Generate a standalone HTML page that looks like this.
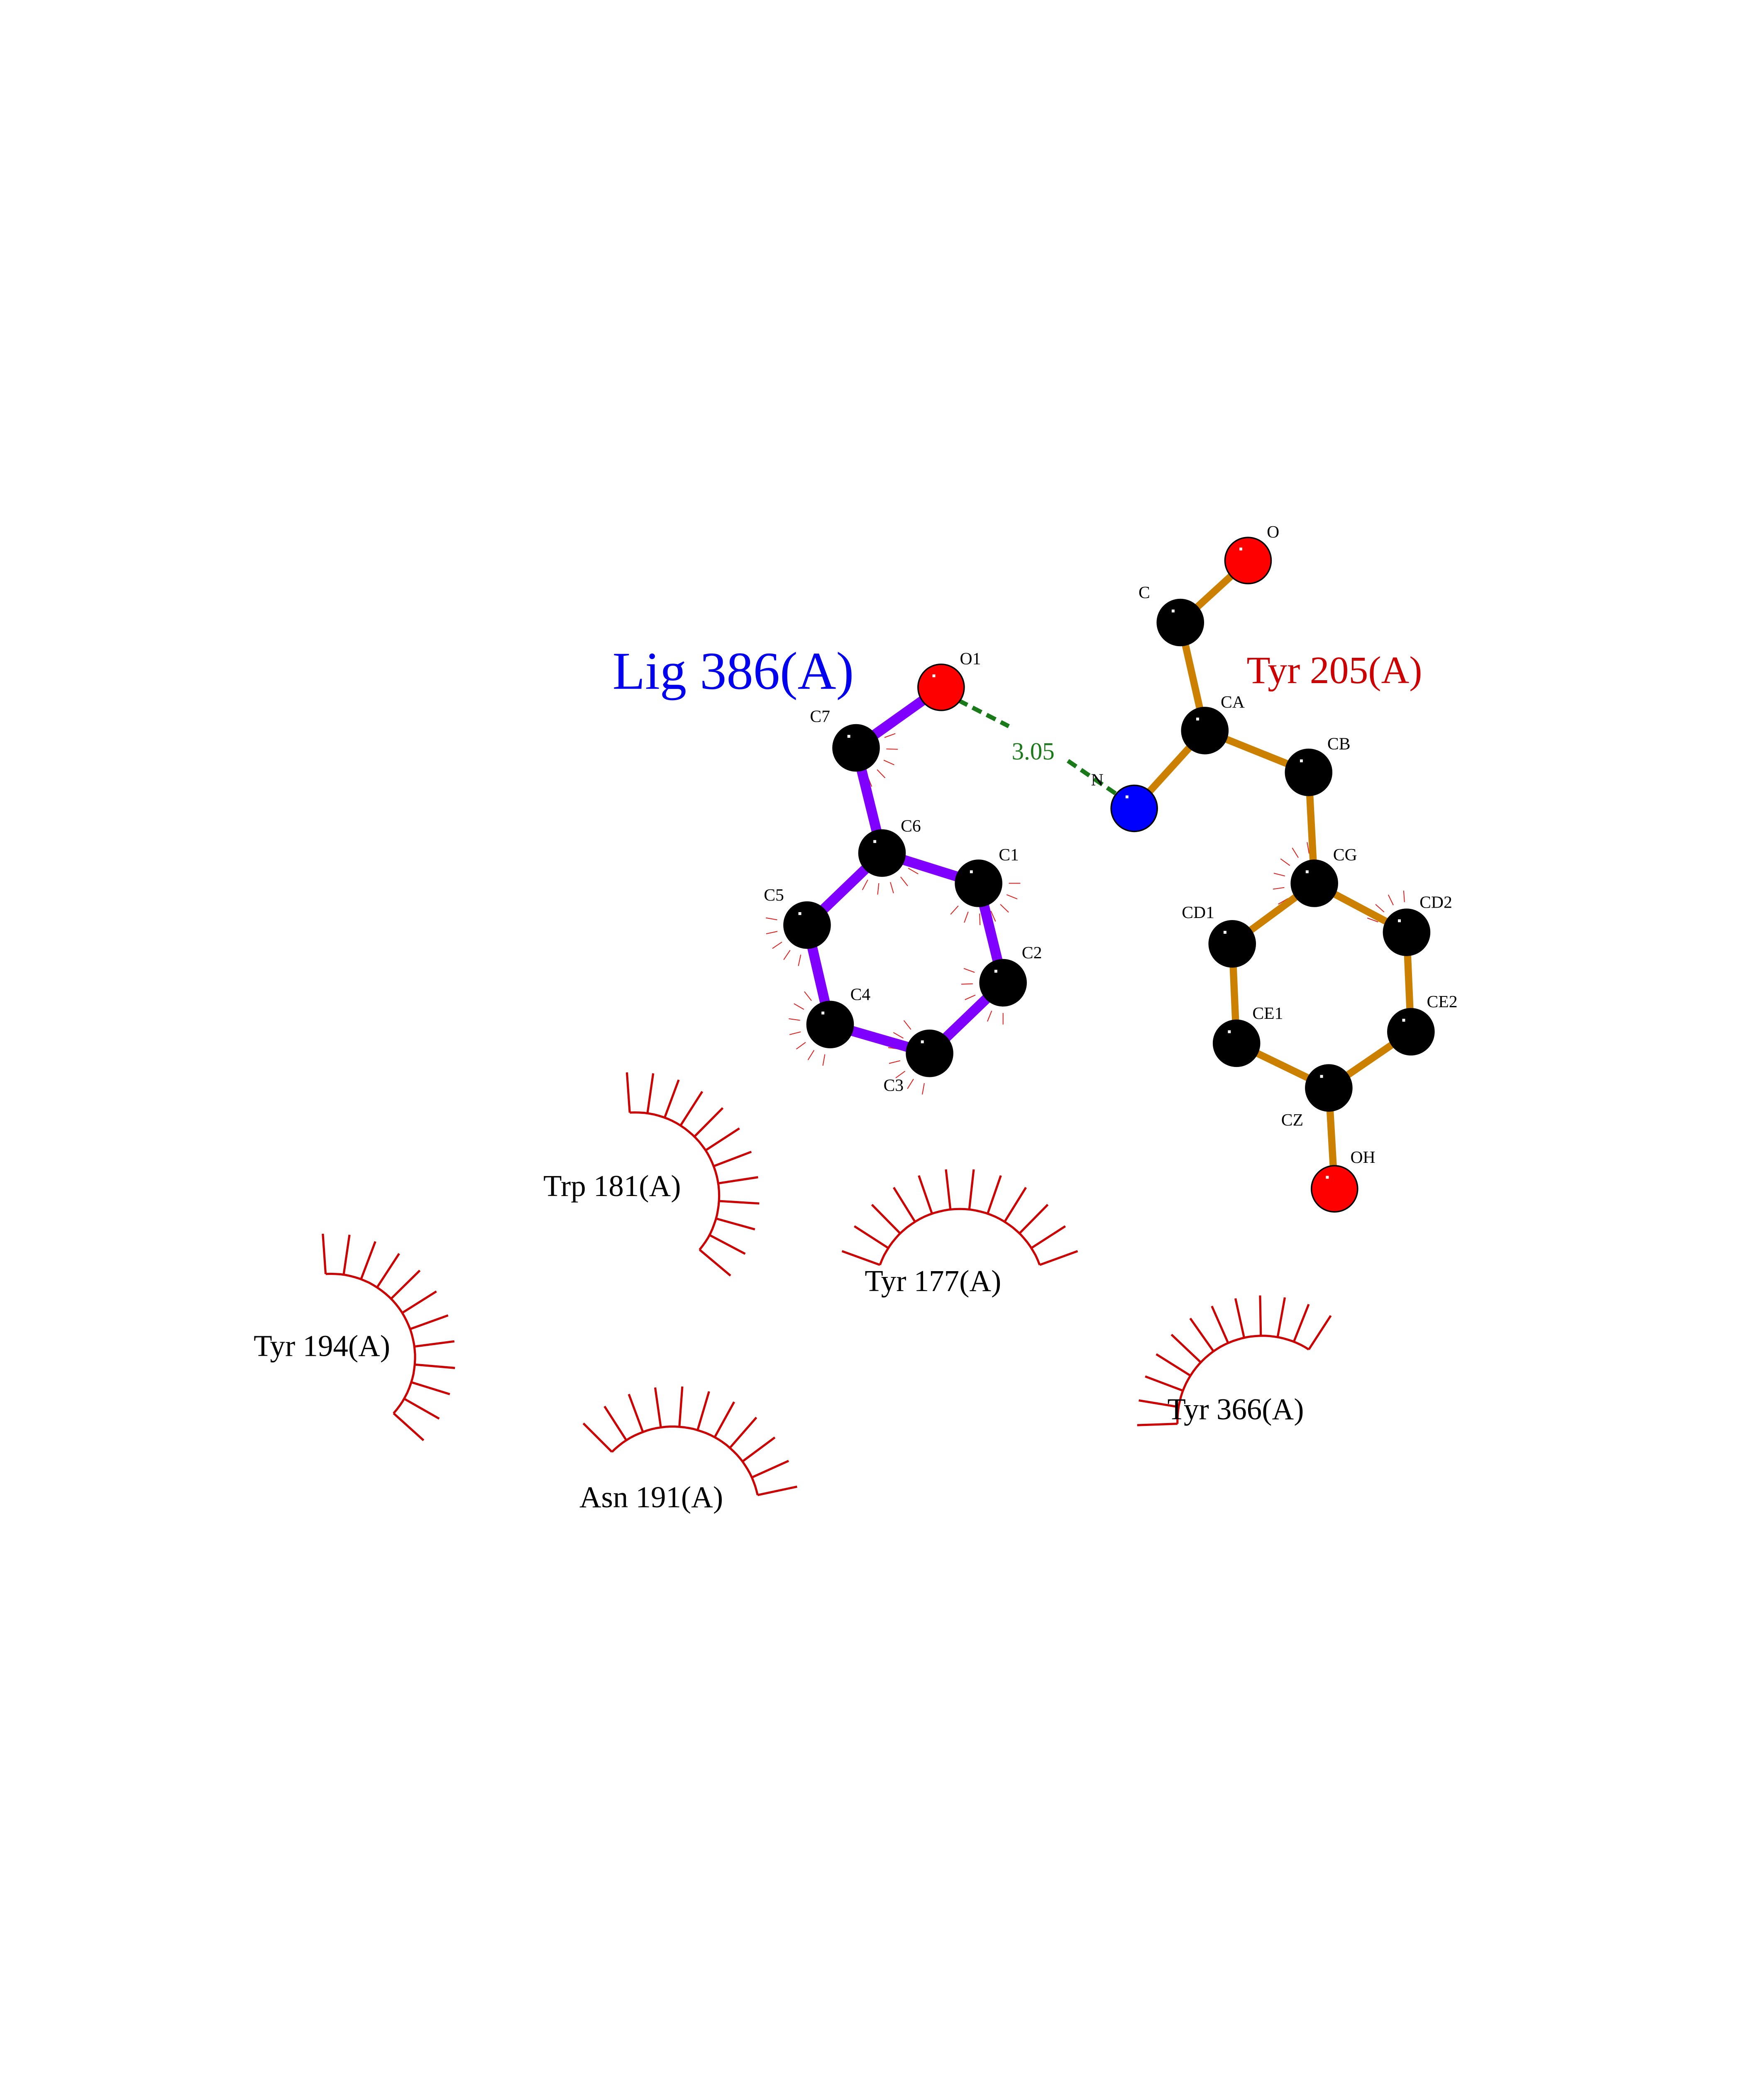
<!DOCTYPE html>
<html><head><meta charset="utf-8"><style>html,body{margin:0;padding:0;background:#fff;width:4250px;height:5500px;overflow:hidden}svg{display:block;position:absolute;left:0;top:0}</style></head>
<body>
<svg id="s" width="4250" height="5500" viewBox="0 0 1224 1584" xmlns="http://www.w3.org/2000/svg" font-family="Liberation Serif, serif">
<g id="arcs" stroke="#cc0000" stroke-width="1.5" fill="none"></g>
<g id="ticks" stroke="#dd2222" stroke-width="0.6"></g>
<line x1="665" y1="486" x2="700" y2="504" stroke="#1a7a1a" stroke-width="3" stroke-dasharray="7,4"/>
<line x1="741" y1="528" x2="776" y2="552" stroke="#1a7a1a" stroke-width="3" stroke-dasharray="7,4"/>
<text x="702" y="527" font-size="17" fill="#1a7a1a">3.05</text>
<g id="bonds" stroke-linecap="butt"></g>
<g id="atoms"></g>
<g font-size="12" fill="#000">
<text x="666" y="461">O1</text><text x="562" y="501">C7</text><text x="625" y="577">C6</text><text x="693" y="597">C1</text>
<text x="709" y="665">C2</text><text x="530" y="625">C5</text><text x="590" y="694">C4</text><text x="613" y="757">C3</text>
<text x="879" y="373">O</text><text x="790" y="415">C</text><text x="847" y="491">CA</text><text x="757" y="545">N</text>
<text x="921" y="520">CB</text><text x="925" y="597">CG</text><text x="820" y="637">CD1</text><text x="985" y="630">CD2</text>
<text x="869" y="707">CE1</text><text x="990" y="699">CE2</text><text x="889" y="781">CZ</text><text x="937" y="807">OH</text>
</g>
<text x="425" y="478" font-size="37" fill="#0000ee">Lig 386(A)</text>
<text x="865" y="474" font-size="27" fill="#cc0000">Tyr 205(A)</text>
<g font-size="21" fill="#000">
<text x="377" y="830">Trp 181(A)</text>
<text x="600" y="896">Tyr 177(A)</text>
<text x="176" y="941">Tyr 194(A)</text>
<text x="402" y="1046">Asn 191(A)</text>
<text x="810" y="985">Tyr 366(A)</text>
</g>
<text x="58" y="1469" font-size="12">.</text>
</svg>
<script>
var NS="http://www.w3.org/2000/svg";
function el(p,t,a){var e=document.createElementNS(NS,t);for(var k in a)e.setAttribute(k,a[k]);p.appendChild(e);return e;}
var arcs=document.getElementById('arcs');
[[441,830,58,-94,40,12],[666,898,59,-160,-20,12],[467,1050,60,-135,-12,11],[230,942,58,-94,42,12],[876,986,59,-182,-57,12]].forEach(function(a){
 var cx=a[0],cy=a[1],r=a[2],a0=a[3]*Math.PI/180,a1=a[4]*Math.PI/180,n=a[5];
 var d="";for(var i=0;i<=40;i++){var t=a0+(a1-a0)*i/40;d+=(i?"L":"M")+(cx+r*Math.cos(t)).toFixed(1)+" "+(cy+r*Math.sin(t)).toFixed(1);}
 el(arcs,'path',{d:d});
 for(var i=0;i<n;i++){var t=a0+(a1-a0)*i/(n-1);el(arcs,'line',{x1:cx+r*Math.cos(t),y1:cy+r*Math.sin(t),x2:cx+(r+28)*Math.cos(t),y2:cy+(r+28)*Math.sin(t)});}
});
var A={O1:[653,477,'#ff0000'],C7:[594,519],C6:[612,592],C1:[679,613],C2:[696,682],C3:[645,731],C4:[576,711],C5:[560,642],
O:[866,389,'#ff0000'],C:[819,432],CA:[836,507],N:[787,561,'#0000ff'],CB:[908,536],CG:[912,613],CD1:[855,655],CD2:[976,647],CE1:[858,724],CE2:[979,716],CZ:[922,755],OH:[926,825,'#ff0000']};
var ticks=document.getElementById('ticks');
[['C7',-20,80],['C6',30,160],['C1',0,150],['C2',90,200],['C3',100,250],['C4',100,260],['C5',80,200],['CG',150,260],['CD2',200,280]].forEach(function(t){
 var p=A[t[0]];for(var a=t[1];a<=t[2];a+=22){var r=a*Math.PI/180;el(ticks,'line',{x1:p[0]+21*Math.cos(r),y1:p[1]+21*Math.sin(r),x2:p[0]+29*Math.cos(r),y2:p[1]+29*Math.sin(r)});}
});
var bonds=document.getElementById('bonds');
[['O1','C7'],['C7','C6'],['C6','C1'],['C1','C2'],['C2','C3'],['C3','C4'],['C4','C5'],['C5','C6']].forEach(function(b){el(bonds,'line',{x1:A[b[0]][0],y1:A[b[0]][1],x2:A[b[1]][0],y2:A[b[1]][1],stroke:'#8000ff','stroke-width':7});});
[['O','C'],['C','CA'],['CA','N'],['CA','CB'],['CB','CG'],['CG','CD1'],['CG','CD2'],['CD1','CE1'],['CD2','CE2'],['CE1','CZ'],['CE2','CZ'],['CZ','OH']].forEach(function(b){el(bonds,'line',{x1:A[b[0]][0],y1:A[b[0]][1],x2:A[b[1]][0],y2:A[b[1]][1],stroke:'#cc8000','stroke-width':5});});
var atoms=document.getElementById('atoms');
for(var k in A){var p=A[k];el(atoms,'circle',{cx:p[0],cy:p[1],r:16,fill:p[2]||'#000',stroke:'#000','stroke-width':1});
 el(atoms,'rect',{x:p[0]-6,y:p[1]-9,width:2,height:2,fill:'#fff'});}
</script>
</body></html>
